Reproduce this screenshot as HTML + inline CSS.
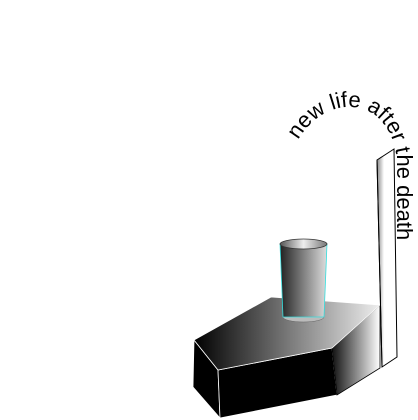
<!DOCTYPE html>
<html><head><meta charset="utf-8"><style>html,body{margin:0;padding:0;background:#fff;width:418px;height:420px;overflow:hidden}</style></head>
<body>
<svg width="418" height="420" viewBox="0 0 418 420" xmlns="http://www.w3.org/2000/svg">
<defs>
<linearGradient id="top" x1="0" y1="0" x2="1" y2="0"><stop offset="0" stop-color="#000"/><stop offset="1" stop-color="#eee"/></linearGradient>
<linearGradient id="right" x1="0" y1="0" x2="1" y2="0"><stop offset="0" stop-color="#111"/><stop offset="1" stop-color="#fff"/></linearGradient>
<linearGradient id="cup" x1="0" y1="0" x2="1" y2="0"><stop offset="0" stop-color="#222"/><stop offset="1" stop-color="#ddd"/></linearGradient>
<linearGradient id="cuptop" x1="0" y1="0" x2="1" y2="0"><stop offset="0" stop-color="#555"/><stop offset="0.5" stop-color="#eee"/><stop offset="1" stop-color="#777"/></linearGradient>
<linearGradient id="pillar" x1="0" y1="0" x2="1" y2="0"><stop offset="0" stop-color="#888"/><stop offset="0.35" stop-color="#fff"/><stop offset="1" stop-color="#fff"/></linearGradient>
<path id="tp" d="M 298,140 C 326,92 390,94 397,160 L 397,290"/>
</defs>
<g>
<polygon points="194,340 218,370 220,418 193,387" fill="#000" stroke="#fff" stroke-width="0.8"/>
<polygon points="218,370 332,348 337,395 220,418" fill="#000" stroke="#fff" stroke-width="0.8"/>
<polygon points="332,348 380,305 380,368 337,395" fill="url(#right)" stroke="#000" stroke-width="0.8"/>
<polygon points="194,340 271,297 380,305 332,348 218,370" fill="url(#top)" stroke="#fff" stroke-width="0.8"/>
</g>
<g>
<polygon points="377,160 394,149 397,357 382,367" fill="url(#pillar)" stroke="#000" stroke-width="1"/>
<line x1="377" y1="160" x2="382" y2="367" stroke="#000" stroke-width="1"/>
</g>
<g>
<ellipse cx="303.5" cy="317" rx="20.5" ry="5" fill="#bbb" stroke="#666" stroke-width="0.5"/>
<polygon points="280,244 327,244 324,317 283,317" fill="url(#cup)" stroke="#3dd" stroke-width="0.8"/>
<ellipse cx="303.5" cy="244" rx="23.5" ry="5" fill="url(#cuptop)" stroke="#333" stroke-width="0.8"/>
</g>
<text font-family="Liberation Sans, sans-serif" font-size="22" fill="#000"><textPath href="#tp">new life after the death</textPath></text>
</svg>
</body></html>
